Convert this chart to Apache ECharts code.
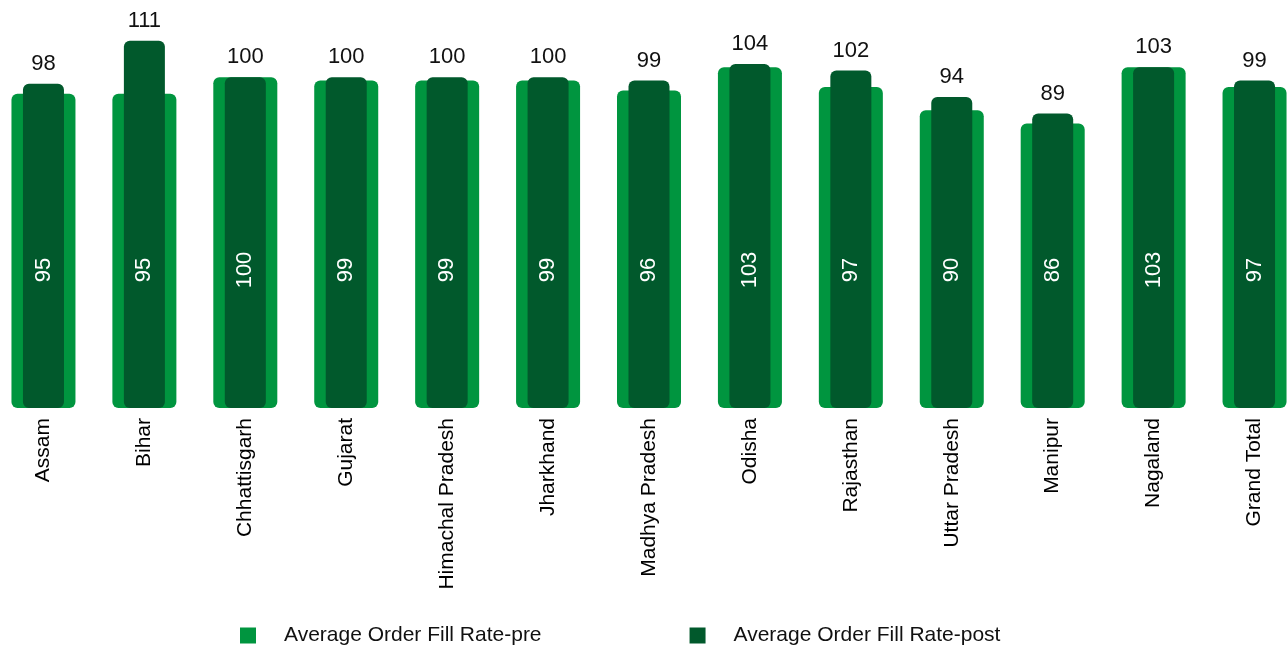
<!DOCTYPE html>
<html>
<head>
<meta charset="utf-8">
<script src="https://cdn.jsdelivr.net/npm/echarts@6/dist/echarts.min.js"></script>
<style>
  html, body { margin: 0; padding: 0; background: #fff; overflow: hidden; }
  #chart { width: 1312px; height: 648px; margin-left: -7px; }
</style>
</head>
<body>
<div id="chart"></div>
<script>
const states = ['Assam', 'Bihar', 'Chhattisgarh', 'Gujarat', 'Himachal Pradesh', 'Jharkhand',
  'Madhya Pradesh', 'Odisha', 'Rajasthan', 'Uttar Pradesh', 'Manipur', 'Nagaland', 'Grand Total']
const fillRatePre = [95, 95, 100, 99, 99, 99, 96, 103, 97, 90, 86, 103, 97]
const fillRatePost = [98, 111, 100, 100, 100, 100, 99, 104, 102, 94, 89, 103, 99]

const font = 'Liberation Sans, Arial, sans-serif'
const chart = echarts.init(document.getElementById('chart'))

chart.setOption({
  animation: false,
  grid: {
    left: 0,
    right: 0,
    top: 11,
    bottom: 240,
    containLabel: false
  },
  legend: {
    left: 242,
    top: 620,
    itemWidth: 16,
    itemHeight: 16,
    itemGap: 148,
    icon: 'rect',
    textStyle: {
      fontFamily: font,
      fontSize: 21,
      color: '#111',
      padding: [0, 0, 0, 23]
    }
  },
  xAxis: [
    {
      type: 'category',
      data: states,
      axisLine: { show: false },
      axisTick: { show: false },
      axisLabel: {
        rotate: 90,
        margin: 10,
        fontFamily: font,
        fontSize: 21,
        color: '#000'
      }
    },
    {
      type: 'category',
      data: states,
      show: false,
      position: 'bottom'
    }
  ],
  yAxis: {
    type: 'value',
    min: 0,
    max: 120,
    show: false,
    splitLine: { show: false }
  },
  series: [
    {
      name: 'Average Order Fill Rate-pre',
      type: 'bar',
      xAxisIndex: 0,
      barWidth: 64,
      data: fillRatePre,
      itemStyle: { color: '#00953F', borderRadius: 6 },
      label: {
        show: true,
        position: 'insideBottom',
        distance: 138,
        rotate: 90,
        align: 'center',
        verticalAlign: 'middle',
        fontFamily: font,
        fontSize: 22,
        color: '#fff'
      }
    },
    {
      name: 'Average Order Fill Rate-post',
      type: 'bar',
      xAxisIndex: 1,
      barWidth: 41,
      data: fillRatePost,
      itemStyle: { color: '#01592C', borderRadius: 6 },
      label: {
        show: true,
        position: 'top',
        distance: 9,
        fontFamily: font,
        fontSize: 22,
        color: '#111'
      }
    }
  ]
})
</script>
</body>
</html>
